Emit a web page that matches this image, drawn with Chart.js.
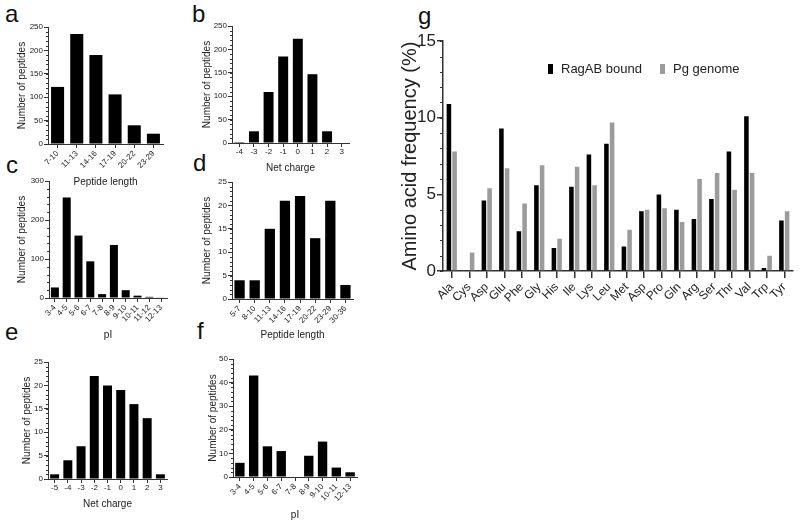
<!DOCTYPE html>
<html>
<head>
<meta charset="utf-8">
<script src="https://cdn.jsdelivr.net/npm/chart.js@4.4.0/dist/chart.umd.min.js"></script>
<style>
body { margin: 0; background: #fff; }
#fig { position: relative; width: 800px; height: 526px; overflow: hidden; font-family: "Liberation Sans", Arial, sans-serif; }
#fig canvas { position: absolute; }
.letter { position: absolute; font-size: 24px; line-height: 24px; color: #111; }
.leg { position: absolute; font-size: 13px; line-height: 14px; color: #222; white-space: nowrap; }
.leg i { position: absolute; left: -13px; top: 2px; width: 5px; height: 10px; }
</style>
</head>
<body>
<div id="fig">
  <div class="letter" style="left:5px;top:2px">a</div>
  <div class="letter" style="left:192px;top:2px">b</div>
  <div class="letter" style="left:6px;top:153px">c</div>
  <div class="letter" style="left:193px;top:151px">d</div>
  <div class="letter" style="left:5px;top:320px">e</div>
  <div class="letter" style="left:197px;top:319px">f</div>
  <div class="letter" style="left:418px;top:4px">g</div>

  <canvas id="panelA" width="170" height="177" style="left:0px;top:15px"></canvas>
  <canvas id="panelB" width="165" height="160" style="left:190px;top:15px"></canvas>
  <canvas id="panelC" width="175" height="172" style="left:0px;top:170px"></canvas>
  <canvas id="panelD" width="170" height="172" style="left:190px;top:170px"></canvas>
  <canvas id="panelE" width="175" height="162" style="left:0px;top:350px"></canvas>
  <canvas id="panelF" width="172" height="176" style="left:190px;top:347px"></canvas>
  <canvas id="panelG" width="402" height="290" style="left:398px;top:30px"></canvas>

  <div class="leg" id="leg1" style="left:561px;top:62px"><i style="background:#000"></i></div>
  <div class="leg" id="leg2" style="left:673px;top:62px"><i style="background:#9b9b9b"></i></div>
</div>
<script>
// a: peptide length
const lengthA = ['7-10', '11-13', '14-16', '17-19', '20-22', '23-29'];
const countsA = [122, 235, 190, 106, 40, 22];
// b: net charge
const chargeB = ['-4', '-3', '-2', '-1', '0', '1', '2', '3'];
const countsB = [2, 25, 109, 185, 223, 147, 25, 0];
// c: pI
const piC = ['3-4', '4-5', '5-6', '6-7', '7-8', '8-9', '9-10', '10-11', '11-12', '12-13'];
const countsC = [27, 258, 160, 94, 10, 136, 20, 6, 3, 1];
// d: peptide length
const lengthD = ['5-7', '8-10', '11-13', '14-16', '17-19', '20-22', '23-29', '30-36'];
const countsD = [4, 4, 15, 21, 22, 13, 21, 3];
// e: net charge
const chargeE = ['-5', '-4', '-3', '-2', '-1', '0', '1', '2', '3'];
const countsE = [1, 4, 7, 22, 20, 19, 16, 13, 1];
// f: pI
const piF = ['3-4', '4-5', '5-6', '6-7', '7-8', '8-9', '9-10', '10-11', '12-13'];
const countsF = [6, 43, 13, 11, 0, 9, 15, 4, 2];
// g: amino acid frequency (%)
const aminoAcids = ['Ala', 'Cys', 'Asp', 'Glu', 'Phe', 'Gly', 'His', 'Ile', 'Lys', 'Leu',
                    'Met', 'Asp', 'Pro', 'Gln', 'Arg', 'Ser', 'Thr', 'Val', 'Trp', 'Tyr'];
const ragabBound = [10.9, 0, 4.6, 9.3, 2.6, 5.6, 1.5, 5.5, 7.6, 8.3,
                    1.6, 3.9, 5.0, 4.0, 3.4, 4.7, 7.8, 10.1, 0.2, 3.3];
const pgGenome = [7.8, 1.2, 5.4, 6.7, 4.4, 6.9, 2.1, 6.8, 5.6, 9.7,
                  2.7, 4.0, 4.1, 3.2, 6.0, 6.4, 5.3, 6.4, 1.0, 3.9];

const FONT = '"Liberation Sans", Arial, sans-serif';
const INK = '#222';
const LINE = '#333';

// small GraphPad style minor ticks on the y axis
const minorTicks = {
    id: 'minorTicks',
    afterDraw(chart, args, opts) {
        if (!opts.step) return;
        const y = chart.scales.y;
        const ctx = chart.ctx;
        ctx.save();
        ctx.strokeStyle = LINE;
        ctx.lineWidth = 1;
        for (let v = 0; v <= y.max + 1e-9; v += opts.step) {
            const py = Math.round(y.getPixelForValue(v)) + 0.5;
            ctx.beginPath();
            ctx.moveTo(y.right - opts.len, py);
            ctx.lineTo(y.right, py);
            ctx.stroke();
        }
        ctx.restore();
    }
};
Chart.register(minorTicks);

function smallPanel(id, labels, values, p) {
    new Chart(document.getElementById(id), {
        type: 'bar',
        data: {
            labels: labels,
            datasets: [{ data: values, backgroundColor: '#000', barPercentage: 0.85, categoryPercentage: 0.8 }]
        },
        options: {
            responsive: false,
            animation: false,
            layout: { padding: { top: p.padTop, right: p.padRight, left: 0, bottom: 0 } },
            plugins: {
                legend: { display: false },
                tooltip: { enabled: false },
                minorTicks: { step: p.minor, len: 2 }
            },
            scales: {
                x: {
                    grid: { drawOnChartArea: false, offset: false, tickLength: 4, color: LINE },
                    border: { color: LINE },
                    ticks: { font: { family: FONT, size: 8 }, color: INK, minRotation: p.rot, maxRotation: p.rot, autoSkip: false, padding: p.rot ? 1 : 0 },
                    title: { display: true, text: p.xTitle, font: { family: FONT, size: 10 }, color: INK, padding: { top: 0, bottom: p.xTitlePad } },
                    afterFit: s => { s.height = p.xH; }
                },
                y: {
                    min: 0,
                    max: p.max,
                    ticks: { stepSize: p.step, font: { family: FONT, size: 8 }, color: INK, padding: 1 },
                    grid: { drawOnChartArea: false, tickLength: 4, color: LINE },
                    border: { color: LINE },
                    title: { display: true, text: 'Number of peptides', font: { family: FONT, size: 10 }, color: INK, padding: { top: p.yTitlePad, bottom: 0 } },
                    afterFit: s => { s.width = p.yW; }
                }
            }
        }
    });
}

smallPanel('panelA', lengthA, countsA, { padTop: 12, padRight: 7, yW: 48, xH: 48, xTitlePad: 4, yTitlePad: 16, rot: 45, max: 250, step: 50, minor: 10, xTitle: 'Peptide length' });
smallPanel('panelB', chargeB, countsB, { padTop: 11, padRight: 6, yW: 42, xH: 32, xTitlePad: 1, yTitlePad: 11, rot: 0, max: 250, step: 50, minor: 10, xTitle: 'Net charge' });
smallPanel('panelC', piC, countsC, { padTop: 11, padRight: 8, yW: 49, xH: 44, xTitlePad: 1, yTitlePad: 16, rot: 45, max: 300, step: 100, minor: 20, xTitle: 'pI' });
smallPanel('panelD', lengthD, countsD, { padTop: 12, padRight: 7, yW: 42, xH: 43, xTitlePad: 1, yTitlePad: 11, rot: 45, max: 25, step: 5, minor: 1, xTitle: 'Peptide length' });
smallPanel('panelE', chargeE, countsE, { padTop: 12, padRight: 8, yW: 48, xH: 33, xTitlePad: 2, yTitlePad: 21, rot: 0, max: 25, step: 5, minor: 1, xTitle: 'Net charge' });
smallPanel('panelF', piF, countsF, { padTop: 12, padRight: 5, yW: 43, xH: 46, xTitlePad: 2, yTitlePad: 17, rot: 45, max: 50, step: 10, minor: 2, xTitle: 'pI' });

const gChart = new Chart(document.getElementById('panelG'), {
    type: 'bar',
    data: {
        labels: aminoAcids,
        datasets: [
            { label: 'RagAB bound', data: ragabBound, backgroundColor: '#000', barPercentage: 0.8, categoryPercentage: 0.65 },
            { label: 'Pg genome', data: pgGenome, backgroundColor: '#9b9b9b', barPercentage: 0.8, categoryPercentage: 0.65 }
        ]
    },
    options: {
        responsive: false,
        animation: false,
        layout: { padding: { top: 10, right: 7, left: 0, bottom: 0 } },
        plugins: {
            legend: { display: false },
            tooltip: { enabled: false },
            minorTicks: { step: 1, len: 3 }
        },
        scales: {
            x: {
                grid: { drawOnChartArea: false, offset: false, tickLength: 7, color: LINE, lineWidth: 1.5 },
                border: { color: LINE, width: 1.5 },
                ticks: { font: { family: FONT, size: 12 }, color: INK, minRotation: 45, maxRotation: 45, autoSkip: false, padding: 2 },
                afterFit: s => { s.height = 49; }
            },
            y: {
                min: 0,
                max: 15,
                ticks: { stepSize: 5, font: { family: FONT, size: 17 }, color: INK, padding: 1 },
                grid: { drawOnChartArea: false, tickLength: 6, color: LINE, lineWidth: 1.5 },
                border: { color: LINE, width: 1.5 },
                title: { display: true, text: 'Amino acid frequency (%)', font: { family: FONT, size: 20 }, color: INK, padding: { top: 0, bottom: 0 } },
                afterFit: s => { s.width = 45; }
            }
        }
    }
});

// legend as real text, from the dataset labels
gChart.data.datasets.forEach((ds, i) => {
    document.getElementById('leg' + (i + 1)).appendChild(document.createTextNode(ds.label));
});
</script>
</body>
</html>
